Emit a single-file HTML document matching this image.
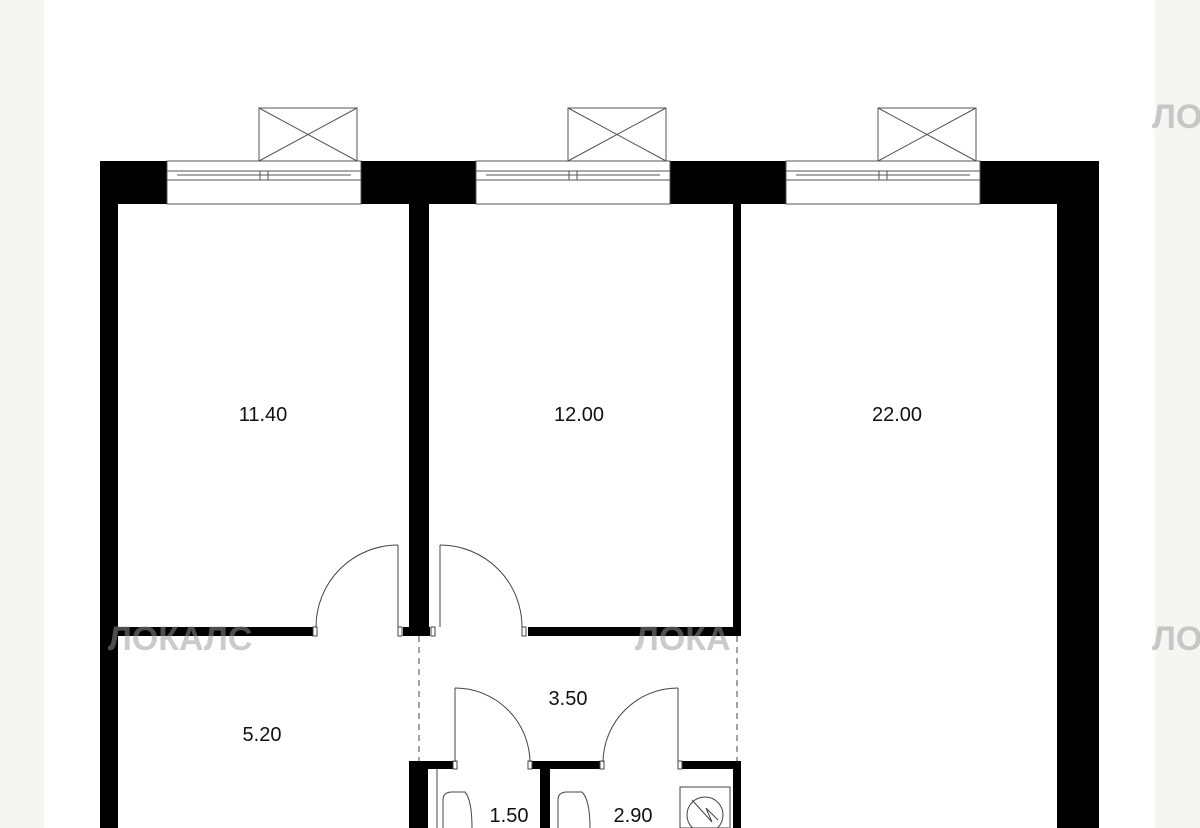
<!DOCTYPE html>
<html><head><meta charset="utf-8"><style>
html,body{margin:0;padding:0;width:1200px;height:828px;overflow:hidden;background:#fff}
svg{display:block}
text{font-family:"Liberation Sans",sans-serif;font-size:20px;fill:#111}
</style></head><body>
<svg width="1200" height="828" viewBox="0 0 1200 828" xmlns="http://www.w3.org/2000/svg">
<rect x="0" y="0" width="44" height="828" fill="#f5f5f4"/>
<rect x="1155" y="0" width="45" height="828" fill="#f5f5f4"/>
<!-- top wall -->
<rect x="100" y="161" width="999" height="43" fill="#000"/>
<!-- windows -->
<g fill="#fff" stroke="#555" stroke-width="1">
<rect x="167" y="161" width="194" height="43"/>
<rect x="476" y="161" width="194" height="43"/>
<rect x="786" y="161" width="194" height="43"/>
</g>
<g fill="none" stroke="#555" stroke-width="1">
<rect x="167" y="171" width="194" height="9"/><line x1="177" y1="175" x2="351" y2="175"/><rect x="260" y="171" width="8" height="9"/>
<rect x="476" y="171" width="194" height="9"/><line x1="486" y1="175" x2="660" y2="175"/><rect x="569" y="171" width="8" height="9"/>
<rect x="786" y="171" width="194" height="9"/><line x1="796" y1="175" x2="970" y2="175"/><rect x="879" y="171" width="8" height="9"/>
<!-- vents -->
<rect x="259" y="108" width="98" height="53"/><line x1="259" y1="108" x2="357" y2="161"/><line x1="357" y1="108" x2="259" y2="161"/>
<rect x="568" y="108" width="98" height="53"/><line x1="568" y1="108" x2="666" y2="161"/><line x1="666" y1="108" x2="568" y2="161"/>
<rect x="878" y="108" width="98" height="53"/><line x1="878" y1="108" x2="976" y2="161"/><line x1="976" y1="108" x2="878" y2="161"/>
</g>
<!-- outer walls -->
<rect x="100" y="161" width="18" height="667" fill="#000"/>
<rect x="1057" y="161" width="42" height="667" fill="#000"/>
<!-- interior walls -->
<rect x="409" y="204" width="20" height="432" fill="#000"/>
<rect x="733" y="204" width="8" height="432" fill="#000"/>
<rect x="118" y="627" width="195" height="9" fill="#000"/>
<rect x="403" y="627" width="27" height="9" fill="#000"/>
<rect x="528" y="627" width="213" height="9" fill="#000"/>
<!-- doors -->
<g fill="none" stroke="#444" stroke-width="1">
<rect x="313" y="627" width="4" height="9"/><rect x="398" y="627" width="4" height="9"/>
<rect x="431" y="627" width="4" height="9"/><rect x="522" y="627" width="4" height="9"/>
<line x1="398" y1="545" x2="398" y2="627"/><path d="M398 545 A82 82 0 0 0 316 627"/>
<line x1="440" y1="545" x2="440" y2="627"/><path d="M440 545 A82 82 0 0 1 522 627"/>
<line x1="455" y1="688" x2="455" y2="762"/><path d="M455 688 A75 75 0 0 1 530 762"/>
<line x1="678" y1="688" x2="678" y2="762"/><path d="M678 688 A75 75 0 0 0 603 762"/>
<line x1="419" y1="636" x2="419" y2="762" stroke-dasharray="6 5"/>
<line x1="737" y1="636" x2="737" y2="762" stroke-dasharray="6 5"/>
</g>
<!-- bathroom block -->
<rect x="409" y="761" width="44" height="8" fill="#000"/>
<rect x="409" y="761" width="19" height="67" fill="#000"/>
<rect x="532" y="761" width="68" height="8" fill="#000"/>
<rect x="540" y="761" width="10" height="67" fill="#000"/>
<rect x="682" y="761" width="59" height="8" fill="#000"/>
<rect x="733" y="761" width="8" height="67" fill="#000"/>
<g fill="none" stroke="#444" stroke-width="1">
<rect x="453" y="761" width="4" height="8"/><rect x="528" y="761" width="4" height="8"/>
<rect x="600" y="761" width="4" height="8"/><rect x="678" y="761" width="4" height="8"/>
<line x1="437" y1="769" x2="437" y2="828"/>
<path d="M443 828 V800 Q443 792 452 792 H465 Q472 800 472 828"/>
<path d="M558 828 V800 Q558 792 567 792 H582 Q590 800 590 828"/>
<rect x="680" y="787" width="50" height="41"/>
<circle cx="705" cy="815" r="18"/>
<path d="M692 800 L712 822 L706 808 L718 820"/>
</g>
<!-- watermarks -->
<g font-family="Liberation Sans,sans-serif" font-size="34" font-weight="bold" fill="#999" opacity="0.5">
<text x="108" y="650" style="fill:#999;font-size:34px">ЛОКАЛС</text>
<text x="635" y="650" style="fill:#999;font-size:34px">ЛОКА</text>
<text x="1152" y="650" style="fill:#999;font-size:34px">ЛО</text>
<text x="1152" y="128" style="fill:#999;font-size:34px">ЛО</text>
</g>
<!-- labels -->
<text x="263" y="421" text-anchor="middle">11.40</text>
<text x="579" y="421" text-anchor="middle">12.00</text>
<text x="897" y="421" text-anchor="middle">22.00</text>
<text x="262" y="741" text-anchor="middle">5.20</text>
<text x="568" y="705" text-anchor="middle">3.50</text>
<text x="509" y="822" text-anchor="middle">1.50</text>
<text x="633" y="822" text-anchor="middle">2.90</text>
</svg>
</body></html>
